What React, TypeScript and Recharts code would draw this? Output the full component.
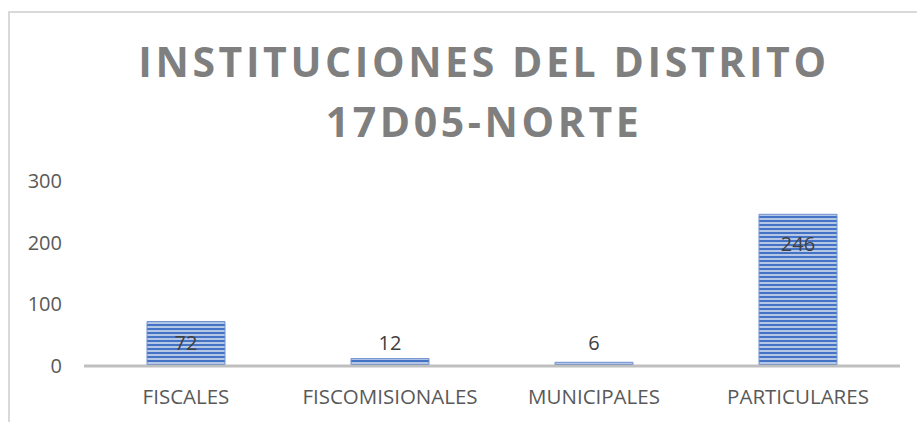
import { BarChart, Bar, XAxis, YAxis, LabelList } from 'recharts';

const categories = ['FISCALES', 'FISCOMISIONALES', 'MUNICIPALES', 'PARTICULARES'];
const instituciones = [72, 12, 6, 246];
const yTicks = [0, 100, 200, 300];
const titleLines = ['INSTITUCIONES DEL DISTRITO', '17D05-NORTE'];

const data = categories.map((name, i) => ({ name, value: instituciones[i] }));

const FONT = '"Open Sans", "Liberation Sans", sans-serif';

// Excel-style label: inside near top for tall bars, above for short ones
function BarLabel(props: any) {
  const { x, y, width, height, value } = props;
  const base = y + height;
  const cy = Math.min(base - 24, y + 29);
  return (
    <text
      x={x + width / 2}
      y={cy}
      textAnchor="middle"
      dominantBaseline="central"
      fill="#404040"
      fontSize={20}
      fontFamily={FONT}
    >
      {value}
    </text>
  );
}

export default function App() {
  return (
    <div style={{ position: 'fixed', left: 0, top: 0, width: 917, height: 422, background: '#fff', overflow: 'hidden' }}>
      {/* chart frame, clipped on right and bottom */}
      <div
        style={{
          position: 'absolute',
          left: 8,
          top: 11,
          width: 940,
          height: 440,
          borderLeft: '2px solid #d9d9d9',
          borderTop: '2px solid #d9d9d9',
        }}
      />
      {titleLines.map((t, i) => (
        <div
          key={t}
          style={{
            position: 'absolute',
            left: 0,
            width: 968,
            top: 33 + i * 60,
            textAlign: 'center',
            fontFamily: FONT,
            fontWeight: 700,
            fontSize: 41,
            letterSpacing: 3.6,
            color: '#7f7f7f',
            lineHeight: '56px',
            whiteSpace: 'nowrap',
          }}
        >
          {t}
        </div>
      ))}
      <BarChart
        width={917}
        height={422}
        data={data}
        margin={{ top: 181, right: 17, left: 0, bottom: 0 }}
        barCategoryGap={63}
        style={{ position: 'absolute', left: 0, top: 0 }}
      >
        <defs>
          <pattern id="hstripes" patternUnits="userSpaceOnUse" width={8} height={4}>
            <rect x={0} y={0} width={8} height={4} fill="#b4c7e7" />
            <rect x={0} y={0} width={8} height={2} fill="#4472c4" />
          </pattern>
        </defs>
        <XAxis
          dataKey="name"
          height={56}
          axisLine={{ stroke: '#bfbfbf', strokeWidth: 3 }}
          tickLine={false}
          tickSize={6}
          tickMargin={17}
          tick={{ fill: '#595959', fontSize: 20.5, fontFamily: FONT }}
          interval={0}
        />
        <YAxis
          width={84}
          domain={[0, 300]}
          ticks={yTicks}
          axisLine={false}
          tickLine={false}
          tickSize={6}
          tickMargin={16}
          tick={{ fill: '#595959', fontSize: 20, fontFamily: FONT }}
        />
        <Bar dataKey="value" fill="url(#hstripes)" stroke="#6f8fcf" strokeWidth={1} isAnimationActive={false}>
          <LabelList dataKey="value" content={<BarLabel />} />
        </Bar>
      </BarChart>
    </div>
  );
}
